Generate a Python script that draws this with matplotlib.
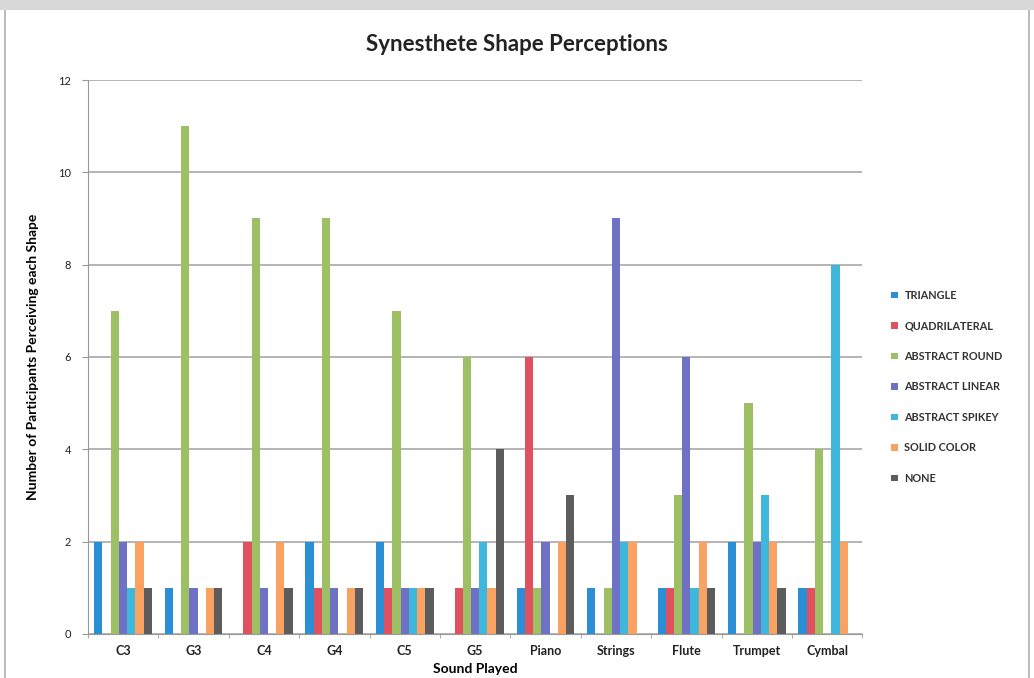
import numpy as np
import matplotlib.pyplot as plt
from matplotlib.patches import Rectangle

plt.rcParams['font.family'] = ['Lato', 'DejaVu Sans']

sounds = ["C3", "G3", "C4", "G4", "C5", "G5", "Piano", "Strings", "Flute", "Trumpet", "Cymbal"]
series = ["TRIANGLE", "QUADRILATERAL", "ABSTRACT ROUND", "ABSTRACT LINEAR",
          "ABSTRACT SPIKEY", "SOLID COLOR", "NONE"]

triangle = [2, 1, 0, 2, 2, 0, 1, 1, 1, 2, 1]
quadrilateral = [0, 0, 2, 1, 1, 1, 6, 0, 1, 0, 1]
abstract_round = [7, 11, 9, 9, 7, 6, 1, 1, 3, 5, 4]
abstract_linear = [2, 1, 1, 1, 1, 1, 2, 9, 6, 2, 0]
abstract_spikey = [1, 0, 0, 0, 1, 2, 0, 2, 1, 3, 8]
solid_color = [2, 1, 2, 1, 1, 1, 2, 2, 2, 2, 2]
none = [1, 1, 1, 1, 1, 4, 3, 0, 1, 1, 0]

values = [triangle, quadrilateral, abstract_round, abstract_linear,
          abstract_spikey, solid_color, none]
colors = ["#2a8fd4", "#e0505e", "#9dc064", "#6f72c4", "#3fb6dc", "#f9a262", "#5c5c5c"]

fig = plt.figure(figsize=(10.34, 6.78), dpi=100)
ax = fig.add_axes([0.085, 0.065, 0.749, 0.817])

x = np.arange(len(sounds))
width = 0.117
for i, (name, vals) in enumerate(zip(series, values)):
    offset = (i - 3) * width
    ax.bar(x + offset, vals, width, color=colors[i], label=name, zorder=3)

ax.set_xlim(-0.5, len(sounds) - 0.5)
ax.set_ylim(0, 12)
ax.set_yticks(range(0, 13, 2))
ax.set_xticks(x)
ax.set_xticklabels(sounds, fontsize=9, fontweight='bold', color='#222222')
ax.set_xticks(np.arange(-0.5, len(sounds), 1), minor=True)
ax.tick_params(axis='x', which='major', length=0, pad=8)
ax.tick_params(axis='x', which='minor', length=3, color='#999999')
ax.tick_params(axis='y', labelsize=8, length=4, color='#999999', labelcolor='#222222', pad=8)
ax.yaxis.grid(True, color='#a0a0a0', linewidth=1.1, zorder=0)
for side in ['top', 'right']:
    ax.spines[side].set_visible(False)
for side in ['left', 'bottom']:
    ax.spines[side].set_color('#999999')

ax.set_ylabel("Number of Participants Perceiving each Shape", fontsize=10,
              fontweight='bold', labelpad=14)
ax.set_xlabel("Sound Played", fontsize=10, fontweight='bold', labelpad=4)
fig.text(0.5, 0.935, "Synesthete Shape Perceptions", ha='center', va='center',
         fontsize=16, fontweight='bold', color='#222222')

leg = ax.legend(loc='center left', bbox_to_anchor=(1.025, 0.446), frameon=False,
                fontsize=7.8, handlelength=0.6, handleheight=0.6,
                labelspacing=1.8, handletextpad=0.6)
for t in leg.get_texts():
    t.set_fontweight('bold')
    t.set_color('#333333')

# screenshot frame
fig.patches.append(Rectangle((0.005, -0.01), 0.99, 1.0, transform=fig.transFigure,
                             fill=False, edgecolor='#b0b0b0', linewidth=1.2))
fig.patches.append(Rectangle((0, 0.985), 1, 0.015, transform=fig.transFigure,
                             color='#d8d8d8', linewidth=0))

fig.savefig("out.png", dpi=100)
